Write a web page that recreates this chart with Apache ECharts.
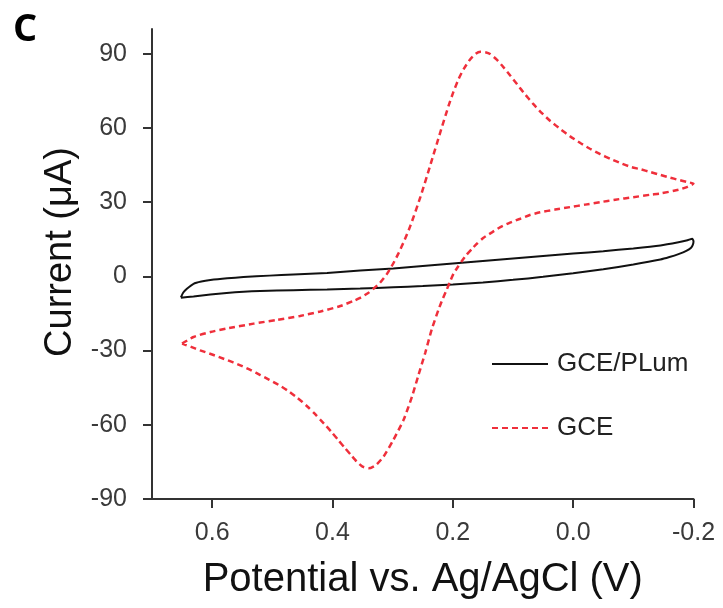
<!DOCTYPE html>
<html>
<head>
<meta charset="utf-8">
<title>Cyclic voltammograms</title>
<script src="https://cdn.jsdelivr.net/npm/echarts@6/dist/echarts.min.js"></script>
<style>
  html, body { margin: 0; padding: 0; background: #ffffff; }
  #chart { width: 723px; height: 608px; }
</style>
</head>
<body>
<div id="chart"></div>
<script>
// Potential (V vs. Ag/AgCl) and current (µA) for the bare electrode, traced as one closed loop
const gcePotential = [
  0.650, 0.631, 0.603, 0.576, 0.531, 0.492, 0.454, 0.420, 0.387, 0.365, 0.354, 0.340, 0.332, 0.321, 0.310,
  0.300, 0.290, 0.280, 0.270, 0.254, 0.238, 0.221, 0.207, 0.199, 0.190, 0.182, 0.171, 0.162, 0.154, 0.146,
  0.138, 0.127, 0.116, 0.104, 0.093, 0.080, 0.066, 0.052, 0.038, 0.020, 0.005, -0.012, -0.028, -0.045, -0.062,
  -0.080, -0.095, -0.112, -0.128, -0.145, -0.160, -0.175, -0.190, -0.200,
  -0.190, -0.175, -0.145, -0.128, -0.100, -0.070, -0.045, -0.020, 0.005, 0.030, 0.055, 0.072, 0.088, 0.105,
  0.121, 0.135, 0.149, 0.160, 0.168, 0.177, 0.185, 0.192, 0.199, 0.205, 0.210, 0.217, 0.224, 0.235, 0.246,
  0.257, 0.268, 0.282, 0.299, 0.315, 0.328, 0.340, 0.350, 0.360, 0.370, 0.380, 0.390, 0.400, 0.410, 0.420,
  0.430, 0.440, 0.450, 0.460, 0.475, 0.490, 0.505, 0.520, 0.535, 0.550, 0.565, 0.580, 0.600, 0.620, 0.635,
  0.650
];
const gceCurrent = [
  -27.2, -24.5, -22.5, -21.1, -19.1, -17.6, -16.0, -14.2, -12.0, -9.9, -8.7, -6.6, -5.0, -2.6, 0.8,
  4.8, 9.5, 14.8, 20.8, 32.0, 44.5, 58.1, 69.0, 74.6, 80.0, 83.8, 87.8, 90.0, 90.8, 90.6,
  89.9, 87.6, 84.6, 81.0, 77.6, 73.6, 69.6, 66.0, 62.8, 59.3, 56.6, 53.9, 51.6, 49.4, 47.5,
  45.7, 44.3, 43.3, 42.2, 41.0, 40.0, 39.0, 38.1, 37.5,
  36.2, 35.0, 33.5, 33.0, 32.0, 31.0, 30.0, 29.0, 28.0, 27.0, 25.9, 24.8, 23.3, 21.7,
  19.9, 17.8, 15.6, 13.2, 11.2, 8.8, 6.2, 3.7, 1.0, -2.3, -5.3, -9.2, -13.6, -21.4, -31.0,
  -39.8, -48.7, -58.1, -66.2, -72.8, -76.3, -77.6, -76.9, -74.8, -72.0, -69.2, -66.3, -63.4, -60.6, -58.0,
  -55.4, -53.0, -50.8, -48.8, -46.1, -43.8, -41.8, -39.9, -38.0, -36.3, -34.8, -33.4, -31.6, -29.9, -28.5,
  -27.2
];

// Polymer-modified electrode
const plumPotential = [
  0.652, 0.648, 0.642, 0.631, 0.618, 0.603, 0.575, 0.548, 0.505, 0.465, 0.409, 0.354, 0.299, 0.25, 0.2,
  0.15, 0.1, 0.05, 0.0, -0.05, -0.1, -0.145, -0.175, -0.19, -0.198, -0.2, -0.199,
  -0.196, -0.188, -0.175, -0.16, -0.145, -0.1, -0.05, 0.0, 0.05, 0.1, 0.15, 0.2, 0.25, 0.299, 0.354,
  0.409, 0.465, 0.52, 0.548, 0.576, 0.603, 0.631, 0.652
];
const plumCurrent = [
  -8.5, -6.5, -5.0, -3.0, -2.1, -1.5, -0.8, -0.3, 0.3, 0.8, 1.4, 2.4, 3.2, 4.2, 5.2,
  6.2, 7.2, 8.2, 9.2, 10.2, 11.3, 12.5, 13.8, 14.6, 15.2, 14.2, 12.8,
  11.6, 10.3, 9.0, 7.8, 6.8, 4.8, 2.9, 1.3, -0.2, -1.4, -2.5, -3.3, -3.9, -4.4, -4.9,
  -5.3, -5.6, -5.9, -6.2, -6.7, -7.3, -8.1, -8.6
];

const xTicks = [-0.2, 0.0, 0.2, 0.4, 0.6];
const yTicks = [-90, -60, -30, 0, 30, 60, 90];

const seriesNames = ['GCE/PLum', 'GCE'];

const FONT = '"Liberation Sans", Arial, Helvetica, sans-serif';

const pairUp = (xs, ys) => xs.map((x, i) => [x, ys[i]]);

const chart = echarts.init(document.getElementById('chart'), null, { renderer: 'canvas' });

chart.setOption({
  animation: false,
  backgroundColor: '#ffffff',
  title: {
    text: 'C',
    left: 8,
    top: 6,
    textStyle: { fontFamily: '"Open Sans", sans-serif', fontWeight: 'bold', fontSize: 38, color: '#000000' }
  },
  grid: { left: 152, right: 29.5, top: 29, bottom: 109, containLabel: false },
  legend: {
    orient: 'vertical',
    left: 491,
    top: 351,
    padding: 0,
    itemWidth: 56,
    itemHeight: 14,
    itemGap: 38,
    data: seriesNames,
    itemStyle: { opacity: 0 },
    textStyle: { fontFamily: FONT, fontSize: 26, color: '#222222', lineHeight: 26, padding: [0, 0, 0, 4] }
  },
  xAxis: {
    type: 'value',
    inverse: true,
    min: -0.2,
    max: 0.7,
    interval: 0.2,
    name: 'Potential vs. Ag/AgCl (V)',
    nameLocation: 'middle',
    nameGap: 61,
    nameTextStyle: { fontFamily: FONT, fontSize: 40, color: '#111111' },
    axisLine: { show: true, onZero: false, lineStyle: { color: '#333333', width: 2 } },
    axisTick: { show: true, inside: false, length: 9, customValues: xTicks, lineStyle: { color: '#333333', width: 2 } },
    axisLabel: {
      customValues: xTicks,
      margin: 22,
      fontFamily: FONT,
      fontSize: 25,
      color: '#3a3a3a',
      formatter: v => v.toFixed(1)
    },
    splitLine: { show: false }
  },
  yAxis: {
    type: 'value',
    min: -90,
    max: 100,
    interval: 30,
    name: 'Current (μA)',
    nameLocation: 'middle',
    nameGap: 67,
    nameTextStyle: { fontFamily: FONT, fontSize: 38, color: '#111111', padding: [0, 0, 0, 24] },
    axisLine: { show: true, onZero: false, lineStyle: { color: '#333333', width: 2 } },
    axisTick: { show: true, inside: false, length: 9, customValues: yTicks, lineStyle: { color: '#333333', width: 2 } },
    axisLabel: {
      customValues: yTicks,
      margin: 25,
      fontFamily: FONT,
      fontSize: 25,
      color: '#3a3a3a'
    },
    splitLine: { show: false }
  },
  series: [
    {
      name: seriesNames[0],
      type: 'line',
      data: pairUp(plumPotential, plumCurrent),
      symbol: 'none',
      smooth: 0.2,
      lineStyle: { color: '#111111', width: 2 },
      itemStyle: { color: '#111111' }
    },
    {
      name: seriesNames[1],
      type: 'line',
      data: pairUp(gcePotential, gceCurrent),
      symbol: 'none',
      smooth: 0.2,
      lineStyle: { color: '#ef2f3b', width: 2.5, type: [6, 4] },
      itemStyle: { color: '#ef2f3b' }
    }
  ]
});
</script>
</body>
</html>
